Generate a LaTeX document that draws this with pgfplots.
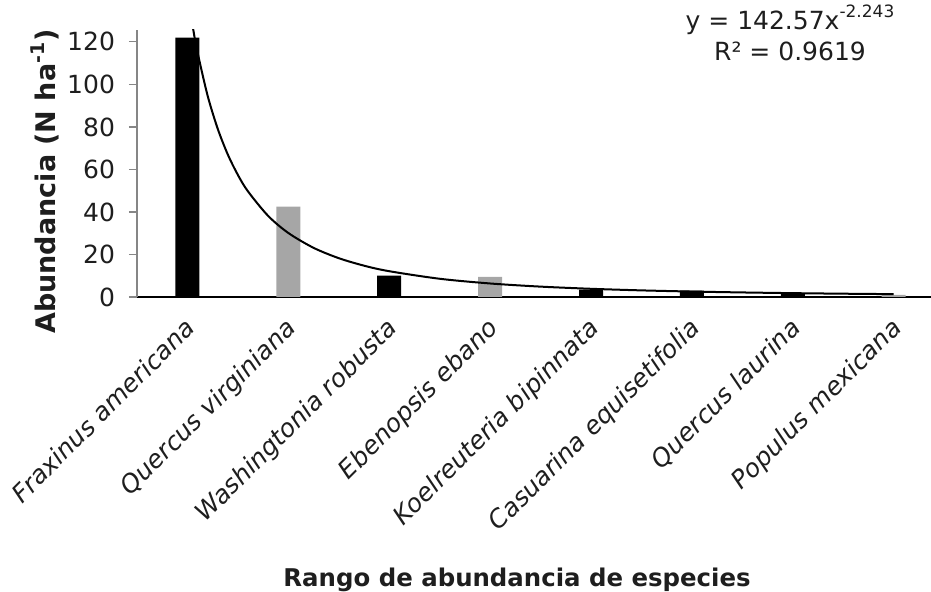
\documentclass[border=0pt]{standalone}
\usepackage{pgfplots}
\pgfplotsset{compat=1.18}
\usepackage{fontspec}
\setmainfont{DejaVu Sans}
\definecolor{bargray}{RGB}{166,166,166}
\definecolor{axgray}{RGB}{134,134,134}
\definecolor{txt}{RGB}{30,30,30}
\begin{document}
\begin{tikzpicture}
\useasboundingbox (-68.5pt,-147.5pt) rectangle (397pt,148.5pt);
\begin{axis}[
  at={(0pt,0pt)}, anchor=south west,
  scale only axis, width=397pt, height=133.5pt,
  xmin=0.5, xmax=8.37, ymin=0, ymax=125.6,
  axis lines*=left,
  x axis line style={black, line width=1pt},
  y axis line style={axgray, line width=0.6pt},
  xtick={1,...,8},
  xticklabels={Fraxinus americana, Quercus virginiana, Washingtonia robusta, Ebenopsis ebano, Koelreuteria bipinnata, Casuarina equisetifolia, Quercus laurina, Populus mexicana},
  x tick style={draw=none},
  ytick={0,20,...,120},
  y tick style={axgray, line width=0.6pt},
  tick align=outside,
  major tick length=4pt,
  /pgf/number format/assume math mode=true,
  yticklabel style={font=\fontsize{12.5}{14}\selectfont, text=txt, xshift=-3.5pt},
  xticklabel style={font=\fontsize{12.5}{14}\selectfont\itshape, text=txt, rotate=45, anchor=north east, xshift=-2pt, yshift=1pt},
  ybar, bar width=12pt,
  clip mode=individual,
]
\addplot[fill=black, draw=none, bar shift=0pt] coordinates {(1,122) (3,10) (5,3.5) (6,3) (7,1.5)};
\addplot[fill=bargray, draw=none, bar shift=0pt] coordinates {(2,42.5) (4,9.5) (8,1.0)};
\addplot[sharp plot, smooth, black, line width=1pt, mark=none] coordinates {
(1.0,142.57) (1.06,125.1) (1.1,115.1) (1.2,94.71) (1.3,79.15) (1.4,67.03) (1.5,57.42) (1.6,49.68) (1.8,38.15) (2.0,30.11) (2.25,23.13) (2.5,18.26) (2.75,14.74) (3.0,12.13) (3.5,8.58) (4.0,6.36) (4.5,4.88) (5.0,3.86) (5.5,3.11) (6.0,2.56) (6.5,2.14) (7.0,1.81) (7.5,1.55) (8.0,1.34)};
\node[anchor=base, font=\fontsize{12.5}{14}\selectfont, text=txt] at (rel axis cs:0.8224,1.0) {y = 142.57x\raisebox{0.5em}{\fontsize{8.5}{9}\selectfont -2.243}};
\node[anchor=base, font=\fontsize{12.5}{14}\selectfont, text=txt] at (rel axis cs:0.8224,0.8876) {R² = 0.9619};
\node[rotate=90, font=\fontsize{13.5}{16}\selectfont\bfseries, text=txt] at (rel axis cs:-0.1159,0.4326) {Abundancia (N ha\textsuperscript{-1})};
\node[font=\fontsize{12.2}{14}\selectfont\bfseries, text=txt] at (rel axis cs:0.4786,-1.06) {Rango de abundancia de especies};
\end{axis}
\end{tikzpicture}
\end{document}
